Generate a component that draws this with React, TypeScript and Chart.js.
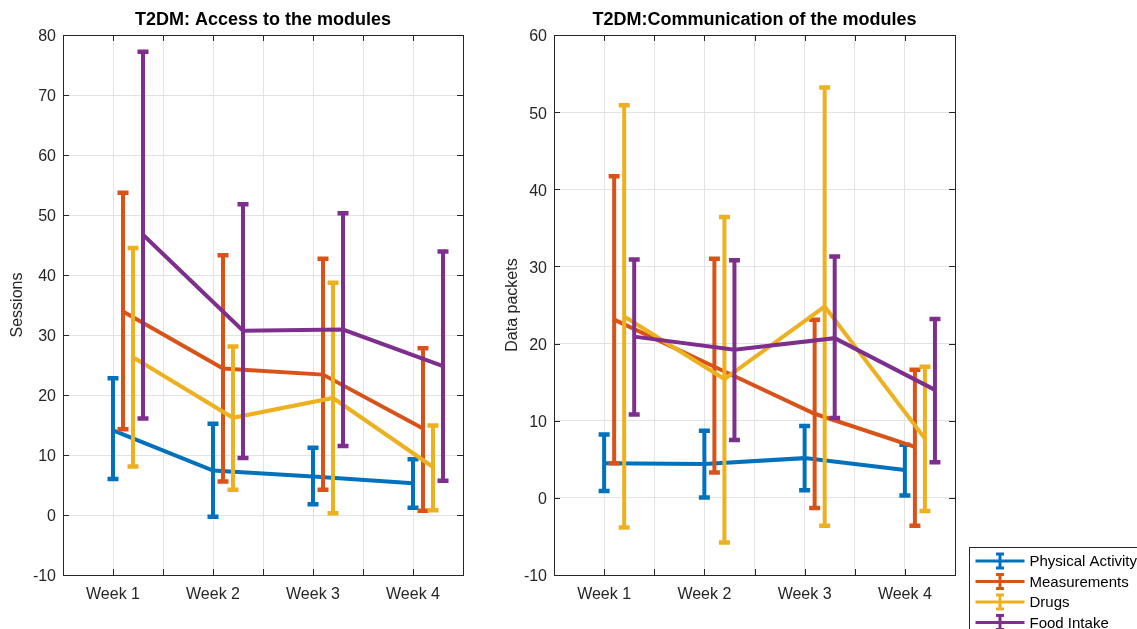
import React, { useEffect, useRef } from "react";
import { Chart, registerables } from "chart.js";

Chart.register(...registerables);

// ---------- data ----------
const weekLabels = ["Week 1", "Week 2", "Week 3", "Week 4"];
const seriesNames = ["Physical Activity", "Measurements", "Drugs", "Food Intake"];
const seriesColors = ["#0072BD", "#D95319", "#EDB120", "#7E2F8E"];
const xOffsets = [0, 0.1, 0.2, 0.3];

// Left chart: access to the modules (Sessions)
const accessPhysicalMean = [14.1, 7.4, 6.4, 5.3];
const accessPhysicalLow = [6.0, -0.3, 1.8, 1.2];
const accessPhysicalHigh = [22.8, 15.2, 11.2, 9.3];
const accessMeasMean = [33.9, 24.4, 23.4, 14.4];
const accessMeasLow = [14.3, 5.6, 4.2, 0.7];
const accessMeasHigh = [53.7, 43.3, 42.7, 27.8];
const accessDrugsMean = [26.3, 16.2, 19.5, 8.0];
const accessDrugsLow = [8.1, 4.2, 0.3, 0.8];
const accessDrugsHigh = [44.5, 28.1, 38.7, 14.9];
const accessFoodMean = [46.7, 30.7, 30.9, 24.8];
const accessFoodLow = [16.1, 9.5, 11.5, 5.7];
const accessFoodHigh = [77.2, 51.8, 50.3, 43.9];

// Right chart: communication of the modules (Data packets)
const commPhysicalMean = [4.5, 4.4, 5.15, 3.6];
const commPhysicalLow = [0.9, 0.05, 1.0, 0.3];
const commPhysicalHigh = [8.2, 8.7, 9.3, 6.9];
const commMeasMean = [23.1, 17.0, 10.9, 6.6];
const commMeasLow = [4.5, 3.3, -1.3, -3.6];
const commMeasHigh = [41.7, 31.0, 23.1, 16.6];
const commDrugsMean = [23.5, 15.4, 24.8, 7.7];
const commDrugsLow = [-3.85, -5.8, -3.6, -1.7];
const commDrugsHigh = [50.9, 36.4, 53.2, 17.0];
const commFoodMean = [20.9, 19.2, 20.7, 14.0];
const commFoodLow = [10.8, 7.5, 10.35, 4.6];
const commFoodHigh = [30.9, 30.8, 31.3, 23.2];

const FONT = "'Liberation Sans', Arial, Helvetica, sans-serif";
const AXIS_COLOR = "#262626";

type Cfg = {
  title: string;
  yLabel: string;
  yLabelGap: number;
  yMin: number;
  yMax: number;
  means: number[][];
  lows: number[][];
  highs: number[][];
  canvasW: number;
  yAxisW: number;
  padRight: number;
  legend: boolean;
};

const matlabPlugin = {
  id: "matlabStyle",
  afterDatasetDraw(chart: any, args: any) {
    const ds = chart.data.datasets[args.index];
    if (!ds.errLow) return;
    const ctx = chart.ctx;
    const xs = chart.scales.x;
    const ys = chart.scales.y;
    ctx.save();
    ctx.strokeStyle = ds.borderColor;
    ctx.lineCap = "butt";
    ds.data.forEach((p: any, i: number) => {
      const px = xs.getPixelForValue(p.x);
      const yl = ys.getPixelForValue(ds.errLow[i]);
      const yh = ys.getPixelForValue(ds.errHigh[i]);
      ctx.lineWidth = 4;
      ctx.beginPath();
      ctx.moveTo(px, yl);
      ctx.lineTo(px, yh);
      ctx.stroke();
      ctx.lineWidth = 4.5;
      ctx.beginPath();
      ctx.moveTo(px - 5.5, yl);
      ctx.lineTo(px + 5.5, yl);
      ctx.moveTo(px - 5.5, yh);
      ctx.lineTo(px + 5.5, yh);
      ctx.stroke();
    });
    ctx.restore();
  },
  afterDraw(chart: any) {
    const o = chart.options.plugins.matlabStyle;
    const ctx = chart.ctx;
    const a = chart.chartArea;
    const xs = chart.scales.x;
    const ys = chart.scales.y;
    ctx.save();
    // box
    ctx.strokeStyle = AXIS_COLOR;
    ctx.lineWidth = 1;
    ctx.strokeRect(Math.round(a.left) + 0.5, Math.round(a.top) + 0.5, Math.round(a.right - a.left), Math.round(a.bottom - a.top));
    // inward ticks
    const tl = 6;
    ctx.beginPath();
    xs.ticks.forEach((t: any) => {
      const px = Math.round(xs.getPixelForValue(t.value)) + 0.5;
      ctx.moveTo(px, a.bottom);
      ctx.lineTo(px, a.bottom - tl);
      ctx.moveTo(px, a.top);
      ctx.lineTo(px, a.top + tl);
    });
    ys.ticks.forEach((t: any) => {
      const py = Math.round(ys.getPixelForValue(t.value)) + 0.5;
      ctx.moveTo(a.left, py);
      ctx.lineTo(a.left + tl, py);
      ctx.moveTo(a.right, py);
      ctx.lineTo(a.right - tl, py);
    });
    ctx.stroke();
    // title
    ctx.fillStyle = "#000";
    ctx.font = `bold 18px ${FONT}`;
    ctx.textAlign = "center";
    ctx.textBaseline = "middle";
    ctx.fillText(o.title, (a.left + a.right) / 2, 20.5);
    // y label
    ctx.fillStyle = AXIS_COLOR;
    ctx.font = `16px ${FONT}`;
    ctx.translate(a.left - o.yLabelGap, (a.top + a.bottom) / 2);
    ctx.rotate(-Math.PI / 2);
    ctx.fillText(o.yLabel, 0, 0);
    ctx.restore();

    if (o.legend) {
      ctx.save();
      const bx = a.right + 14.5;
      const by = 547.5;
      ctx.fillStyle = "#fff";
      ctx.fillRect(bx, by, 300, 120);
      ctx.strokeStyle = AXIS_COLOR;
      ctx.lineWidth = 1;
      ctx.strokeRect(bx, by, 300, 120);
      ctx.font = `15px ${FONT}`;
      ctx.textAlign = "left";
      ctx.textBaseline = "middle";
      o.names.forEach((name: string, i: number) => {
        const cy = 561 + i * 20.5;
        const x0 = bx + 6;
        const x1 = bx + 55;
        const xc = (x0 + x1) / 2;
        ctx.strokeStyle = o.colors[i];
        ctx.lineWidth = 3;
        ctx.beginPath();
        ctx.moveTo(x0, cy);
        ctx.lineTo(x1, cy);
        ctx.moveTo(xc, cy - 7);
        ctx.lineTo(xc, cy + 7);
        ctx.moveTo(xc - 4, cy - 7);
        ctx.lineTo(xc + 4, cy - 7);
        ctx.moveTo(xc - 4, cy + 7);
        ctx.lineTo(xc + 4, cy + 7);
        ctx.stroke();
        ctx.fillStyle = "#000";
        ctx.fillText(name, bx + 60, cy + 1);
      });
      ctx.restore();
    }
  },
};

function ErrorChart({ cfg, left }: { cfg: Cfg; left: number }) {
  const ref = useRef<HTMLCanvasElement | null>(null);
  useEffect(() => {
    if (!ref.current) return;
    const datasets = seriesNames.map((name, s) => ({
      label: name,
      data: cfg.means[s].map((v, i) => ({ x: i + 1 + xOffsets[s], y: v })),
      errLow: cfg.lows[s],
      errHigh: cfg.highs[s],
      borderColor: seriesColors[s],
      backgroundColor: seriesColors[s],
      borderWidth: 4,
      pointRadius: 0,
      tension: 0,
      order: 4 - s,
    }));
    const chart = new Chart(ref.current, {
      type: "line",
      data: { datasets } as any,
      plugins: [matlabPlugin],
      options: {
        animation: false,
        responsive: false,
        events: [],
        layout: { padding: { top: 35, right: cfg.padRight, left: 0, bottom: 0 } },
        plugins: {
          legend: { display: false },
          tooltip: { enabled: false },
          matlabStyle: {
            title: cfg.title,
            yLabel: cfg.yLabel,
            yLabelGap: cfg.yLabelGap,
            legend: cfg.legend,
            names: seriesNames,
            colors: seriesColors,
          },
        } as any,
        scales: {
          x: {
            type: "linear",
            min: 0.5,
            max: 4.5,
            afterFit: (s: any) => {
              s.height = 54;
            },
            grid: { color: "#e3e3e3", drawTicks: false, lineWidth: 1 },
            border: { display: false },
            ticks: {
              stepSize: 0.5,
              autoSkip: false,
              maxRotation: 0,
              padding: 10,
              color: AXIS_COLOR,
              font: { family: FONT, size: 16 },
              callback: (v: any) => {
                const n = Number(v);
                return Number.isInteger(n) && n >= 1 && n <= 4 ? weekLabels[n - 1] : "";
              },
            },
          },
          y: {
            type: "linear",
            min: cfg.yMin,
            max: cfg.yMax,
            afterFit: (s: any) => {
              s.width = cfg.yAxisW;
            },
            grid: { color: "#e3e3e3", drawTicks: false, lineWidth: 1 },
            border: { display: false },
            ticks: {
              stepSize: 10,
              padding: 7,
              labelOffset: 2,
              color: AXIS_COLOR,
              font: { family: FONT, size: 16 },
            },
          },
        },
      } as any,
    });
    return () => chart.destroy();
  }, [cfg]);
  return (
    <canvas
      ref={ref}
      width={cfg.canvasW}
      height={629}
      style={{ position: "absolute", left, top: 0, width: cfg.canvasW, height: 629 }}
    />
  );
}

const leftCfg: Cfg = {
  title: "T2DM: Access to the modules",
  yLabel: "Sessions",
  yLabelGap: 45,
  yMin: -10,
  yMax: 80,
  means: [accessPhysicalMean, accessMeasMean, accessDrugsMean, accessFoodMean],
  lows: [accessPhysicalLow, accessMeasLow, accessDrugsLow, accessFoodLow],
  highs: [accessPhysicalHigh, accessMeasHigh, accessDrugsHigh, accessFoodHigh],
  canvasW: 490,
  yAxisW: 63,
  padRight: 27,
  legend: false,
};

const rightCfg: Cfg = {
  title: "T2DM:Communication of the modules",
  yLabel: "Data packets",
  yLabelGap: 41,
  yMin: -10,
  yMax: 60,
  means: [commPhysicalMean, commMeasMean, commDrugsMean, commFoodMean],
  lows: [commPhysicalLow, commMeasLow, commDrugsLow, commFoodLow],
  highs: [commPhysicalHigh, commMeasHigh, commDrugsHigh, commFoodHigh],
  canvasW: 647,
  yAxisW: 64,
  padRight: 182,
  legend: true,
};

export default function App() {
  return (
    <div
      style={{
        position: "fixed",
        left: 0,
        top: 0,
        width: 1137,
        height: 629,
        background: "#fff",
        overflow: "hidden",
      }}
    >
      <ErrorChart cfg={leftCfg} left={0} />
      <ErrorChart cfg={rightCfg} left={490} />
    </div>
  );
}
